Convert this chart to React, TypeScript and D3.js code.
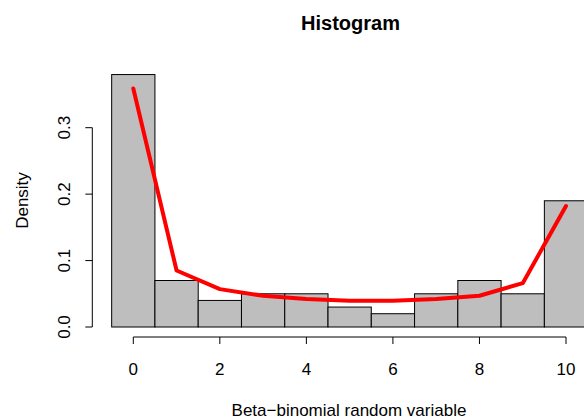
import React from "react";
import * as d3 from "d3";

// Histogram bins (unit width, centred on integers) and fitted density curve
const binCenters = [0, 1, 2, 3, 4, 5, 6, 7, 8, 9, 10];
const binDensity = [0.38, 0.07, 0.04, 0.05, 0.05, 0.03, 0.02, 0.05, 0.07, 0.05, 0.19];
const curveDensity = [0.359, 0.085, 0.057, 0.047, 0.042, 0.0395, 0.0395, 0.042, 0.047, 0.066, 0.182];
const xTicks = [0, 2, 4, 6, 8, 10];
const yTicks = [0, 0.1, 0.2, 0.3];

const W = 584;
const H = 419;
const FONT = "'Liberation Sans', Arial, Helvetica, sans-serif";

export default function App() {
  const x = d3.scaleLinear().domain([0, 10]).range([133.3, 566]);
  const y = d3.scaleLinear().domain([0, 0.3]).range([327, 127.7]);

  const line = d3
    .line<number>()
    .x((_, i) => x(binCenters[i]))
    .y((d) => y(d));

  const axisY = 337;
  const axisX = 92.3;

  return (
    <svg
      width={W}
      height={H}
      style={{ position: "absolute", left: 0, top: 0, background: "#fff" }}
      fontFamily={FONT}
    >
      <defs>
        <clipPath id="plotClip">
          <rect x={0} y={0} width={W} height={H} />
        </clipPath>
      </defs>

      {/* title */}
      <text x={350.5} y={30} textAnchor="middle" fontSize={20} fontWeight="bold">
        Histogram
      </text>

      {/* bars */}
      <g clipPath="url(#plotClip)">
        {binCenters.map((c, i) => (
          <rect
            key={i}
            x={x(c - 0.5)}
            y={y(binDensity[i])}
            width={x(c + 0.5) - x(c - 0.5)}
            height={y(0) - y(binDensity[i])}
            fill="#BEBEBE"
            stroke="#000"
            strokeWidth={1}
          />
        ))}
        <path
          d={line(curveDensity) || ""}
          fill="none"
          stroke="#FF0000"
          strokeWidth={4}
          strokeLinejoin="round"
          strokeLinecap="round"
        />
      </g>

      {/* x axis */}
      <g>
        <line x1={x(0)} x2={x(10)} y1={axisY} y2={axisY} stroke="#000" />
        {xTicks.map((t) => (
          <g key={t}>
            <line x1={x(t)} x2={x(t)} y1={axisY} y2={axisY + 7} stroke="#000" />
            <text x={x(t)} y={375} textAnchor="middle" fontSize={17}>
              {t}
            </text>
          </g>
        ))}
        <text x={349} y={416} textAnchor="middle" fontSize={17}>
          Beta−binomial random variable
        </text>
      </g>

      {/* y axis */}
      <g>
        <line x1={axisX} x2={axisX} y1={y(0)} y2={y(0.3)} stroke="#000" />
        {yTicks.map((t) => (
          <g key={t}>
            <line x1={axisX - 7} x2={axisX} y1={y(t)} y2={y(t)} stroke="#000" />
            <text
              transform={`translate(70,${y(t)}) rotate(-90)`}
              textAnchor="middle"
              fontSize={17}
            >
              {d3.format(".1f")(t)}
            </text>
          </g>
        ))}
        <text
          transform={`translate(27.5,200.5) rotate(-90)`}
          textAnchor="middle"
          fontSize={17}
        >
          Density
        </text>
      </g>
    </svg>
  );
}
